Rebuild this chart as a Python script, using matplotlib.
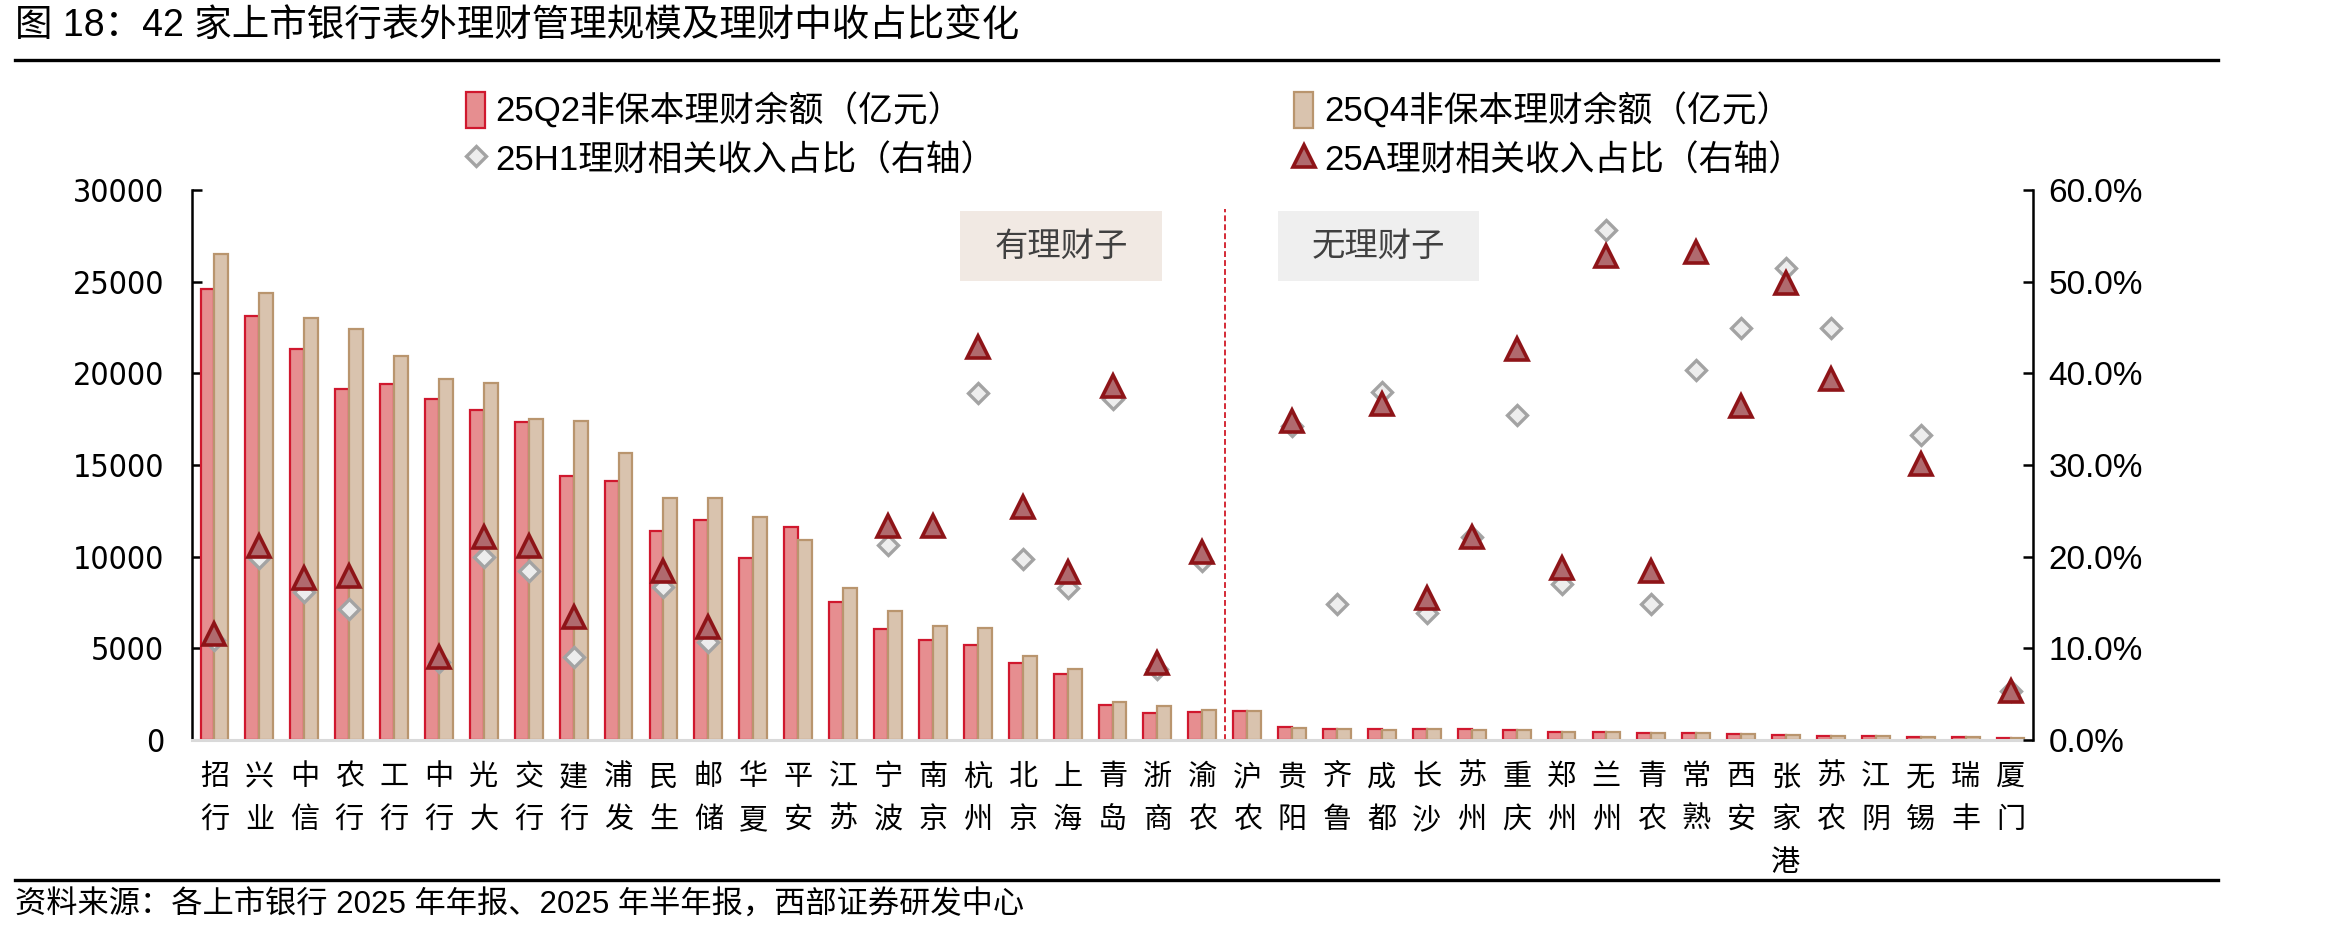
import matplotlib
matplotlib.use("Agg")
import matplotlib.pyplot as plt
import numpy as np
from matplotlib.lines import Line2D
from matplotlib.patches import Rectangle
from matplotlib import font_manager as fm

# ---------------- data ----------------
banks = ['招行', '兴业', '中信', '农行', '工行', '中行', '光大', '交行', '建行', '浦发',
         '民生', '邮储', '华夏', '平安', '江苏', '宁波', '南京', '杭州', '北京', '上海',
         '青岛', '浙商', '渝农', '沪农', '贵阳', '齐鲁', '成都', '长沙', '苏州', '重庆',
         '郑州', '兰州', '青农', '常熟', '西安', '张家港', '苏农', '江阴', '无锡', '瑞丰', '厦门']

q2_balance = [24600, 23150, 21320, 19140, 19430, 18600, 18000, 17350, 14410, 14120,
              11420, 12020, 9940, 11630, 7530, 6030, 5450, 5160, 4180, 3580,
              1910, 1500, 1540, 1600, 690, 620, 620, 580, 620, 520,
              420, 420, 375, 375, 333, 270, 230, 230, 145, 145, 100]

q4_balance = [26500, 24380, 23000, 22420, 20950, 19700, 19490, 17510, 17410, 15660,
              13210, 13210, 12170, 10920, 8280, 7010, 6220, 6115, 4576, 3870,
              2080, 1870, 1640, 1600, 670, 620, 560, 580, 560, 520,
              420, 420, 375, 375, 333, 270, 230, 230, 145, 145, 100]

h1_ratio = [10.9, 19.9, 16.1, 14.3, None, 8.5, 20.0, 18.4, 9.1, None,
            16.7, 10.7, None, None, None, 21.3, None, 37.9, 19.75, 16.6,
            37.2, 7.8, 19.5, None, 34.3, 14.8, 38.0, 13.9, 22.2, 35.4,
            17.0, 55.6, 14.8, 40.4, 44.9, 51.5, 44.9, None, 33.3, None, 5.4]

a25_ratio = [11.6, 21.2, 17.7, 17.9, None, 9.1, 22.2, 21.2, 13.4, None,
             18.4, 12.3, None, None, None, 23.4, 23.4, 42.9, 25.4, 18.3,
             38.6, 8.4, 20.5, None, 34.8, None, 36.7, 15.5, 22.1, 42.6,
             18.8, 52.8, 18.4, 53.2, 36.4, 49.8, 39.4, None, 30.1, None, 5.3]

left_ticks = [0, 5000, 10000, 15000, 20000, 25000, 30000]
right_ticks = [0.0, 0.1, 0.2, 0.3, 0.4, 0.5, 0.6]

title = '图 18：42 家上市银行表外理财管理规模及理财中收占比变化'
source = '资料来源：各上市银行 2025 年年报、2025 年半年报，西部证券研发中心'
legend_labels = ['25Q2非保本理财余额（亿元）', '25Q4非保本理财余额（亿元）',
                 '25H1理财相关收入占比（右轴）', '25A理财相关收入占比（右轴）']
group_labels = ['有理财子', '无理财子']

# ---------------- fonts ----------------
MIX = ['Liberation Sans', 'Noto Sans CJK SC', 'DejaVu Sans']
plt.rcParams['font.family'] = MIX


def find_condensed():
    prefs = ['Liberation Sans Narrow', 'Arial Narrow', 'DejaVu Sans Condensed']
    for e in fm.fontManager.ttflist:
        if e.name in prefs and e.style == 'normal' and e.weight in (400, 'normal', 'regular'):
            return fm.FontProperties(fname=e.fname)
    for e in fm.fontManager.ttflist:
        nm = (e.name + ' ' + str(e.fname)).lower()
        if ('condensed' in nm or 'narrow' in nm or str(e.stretch) in ('condensed', 'semi-condensed')) \
                and 'bold' not in nm and 'oblique' not in nm and 'italic' not in nm \
                and ('dejavu' in nm or 'liberation' in nm or 'roboto' in nm or 'open' in nm):
            return fm.FontProperties(fname=e.fname)
    return None


cond = find_condensed()

W, H = 2338, 938
fig = plt.figure(figsize=(W / 100, H / 100), dpi=100)

x0, x1 = 192, 2033
ytop, ybot = 190, 740
ax = fig.add_axes([x0 / W, 1 - ybot / H, (x1 - x0) / W, (ybot - ytop) / H])

n = len(banks)
x = np.arange(n)
bw = 0.31

q2_fill, q2_edge = '#E68E90', '#D0182E'
q4_fill, q4_edge = '#D9C3AE', '#B9956E'

b1 = ax.bar(x - bw / 2, q2_balance, bw, color=q2_fill, edgecolor=q2_edge, linewidth=1.6, zorder=2)
b2 = ax.bar(x + bw / 2, q4_balance, bw, color=q4_fill, edgecolor=q4_edge, linewidth=1.6, zorder=2)

ax.set_xlim(-0.5, n - 0.5)
ax.set_ylim(0, 30000)
ax.set_yticks(left_ticks)
if cond is not None:
    fp = cond.copy()
    fp.set_size(23)
    ax.set_yticklabels([str(v) for v in left_ticks], fontproperties=fp)
else:
    ax.set_yticklabels([str(v) for v in left_ticks], fontsize=20, family=['Liberation Sans'])
ax.set_xticks(x)
ax.set_xticklabels(['\n'.join(list(b)) for b in banks], fontsize=21,
                   family=['Noto Sans CJK SC'], linespacing=1.55, va='top')
ax.tick_params(axis='x', length=0, pad=16)
ax.tick_params(axis='y', direction='in', length=7, width=1.8, pad=20)

for s in ['top', 'right']:
    ax.spines[s].set_visible(False)
ax.spines['left'].set_linewidth(1.8)
ax.spines['bottom'].set_color('#D9D9D9')
ax.spines['bottom'].set_linewidth(2.2)

ax2 = ax.twinx()
ax2.set_ylim(0, 0.6)
ax2.set_yticks(right_ticks)
ax2.set_yticklabels([f'{v:.1%}' for v in right_ticks], fontsize=24, family=['Liberation Sans'])
ax2.tick_params(axis='y', direction='in', length=7, width=1.8, pad=11)
for s in ['top', 'left', 'bottom']:
    ax2.spines[s].set_visible(False)
ax2.spines['right'].set_linewidth(1.8)

h1 = np.array([np.nan if v is None else v / 100 for v in h1_ratio])
a25 = np.array([np.nan if v is None else v / 100 for v in a25_ratio])

l1, = ax2.plot(x, h1, linestyle='none', marker='D', markersize=10.5,
               markerfacecolor='#EDEDED', markeredgecolor='#A3A3A3', markeredgewidth=2.4, zorder=3)
l2, = ax2.plot(x, a25, linestyle='none', marker='^', markersize=15.5,
               markerfacecolor='#B06A6E', markeredgecolor='#8E1418', markeredgewidth=2.6, zorder=4)

# divider between groups
ax.axvline(22.5, ymin=0, ymax=(740 - 209) / 550, color='#D42A36', linewidth=1.4,
           dashes=(3, 1.6), zorder=1)

# group label boxes (axes fraction)
for (bx0, bx1, fc), lab in zip([(960, 1162, '#F1E9E3'), (1278, 1479, '#EFEFEF')], group_labels):
    fx0 = (bx0 - x0) / (x1 - x0)
    fx1 = (bx1 - x0) / (x1 - x0)
    fy0 = (ybot - 281) / (ybot - ytop)
    fy1 = (ybot - 211) / (ybot - ytop)
    ax.add_patch(Rectangle((fx0, fy0), fx1 - fx0, fy1 - fy0, transform=ax.transAxes,
                           facecolor=fc, edgecolor='none', zorder=0.5, clip_on=False))
    ax.text((fx0 + fx1) / 2, (fy0 + fy1) / 2, lab, transform=ax.transAxes, ha='center',
            va='center', fontsize=24, color='#404040', family=['Noto Sans CJK SC'], zorder=1)

# legend (column-major order for 2 columns)
leg = fig.legend([b1, l1, b2, l2],
                 [legend_labels[0], legend_labels[2], legend_labels[1], legend_labels[3]],
                 ncol=2, loc='upper left', bbox_to_anchor=(466 / W, 1 - 92 / H),
                 frameon=False, fontsize=25, handlelength=0.55, handleheight=1.2,
                 handletextpad=0.3, columnspacing=8.6, labelspacing=0.36, borderaxespad=0,
                 borderpad=0)

# title, rules and source
fig.text(15 / W, 1 - 27 / H, title, fontsize=27, va='center', ha='left')
fig.add_artist(Line2D([15 / W, 2218 / W], [1 - 60 / H] * 2, color='black', linewidth=2.4))
fig.add_artist(Line2D([15 / W, 2218 / W], [1 - 880 / H] * 2, color='black', linewidth=2.4))
fig.text(15 / W, 1 - 906 / H, source, fontsize=22.5, va='center', ha='left')

fig.savefig('out.png', dpi=100)
